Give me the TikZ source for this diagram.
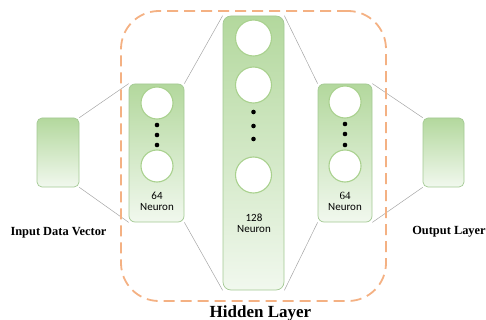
\documentclass[tikz,border=0pt]{standalone}
\usepackage{fontspec}
\setmainfont{Liberation Serif}
\newfontfamily\calib{Carlito}
\newfontfamily\tnr{Liberation Serif}
\pgfdeclarelayer{background}
\pgfsetlayers{background,main}
\definecolor{boxtop}{HTML}{B3D89D}
\definecolor{boxbot}{HTML}{F1F8EE}
\definecolor{boxline}{HTML}{A3C993}
\definecolor{circline}{HTML}{A9D18E}
\definecolor{dashcol}{HTML}{F4B183}
\definecolor{conn}{HTML}{A6A6A6}
\tikzset{
  layerbox/.style={draw=boxline, line width=0.7pt, rounded corners=6pt,
    top color=boxtop, bottom color=boxbot, minimum width=#1, inner sep=0pt},
  neuron/.style={circle, draw=circline, line width=1.1pt, fill=white, minimum size=#1, inner sep=0pt},
  dotmark/.style={circle, fill=black, minimum size=4.6pt, inner sep=0pt},
  conline/.style={draw=conn, line width=0.5pt},
  lbl/.style={font=\tnr\fontsize{12.4}{14}\selectfont\bfseries},
  ntxt/.style={font=\calib\fontsize{11}{13}\selectfont, align=center},
}
\begin{document}
\begin{tikzpicture}[x=1pt, y=-1pt]
\useasboundingbox (0,0) rectangle (486,320);
% hidden layer frame
\node[draw=dashcol, line width=1.8pt, dash pattern=on 11pt off 6pt, rounded corners=38pt,
  minimum width=265pt, minimum height=290pt, inner sep=0pt] (frame) at (253.5,156) {};
% layer boxes
\node[layerbox=42pt, minimum height=69pt, rounded corners=5pt] (in) at (58,152.5) {};
\node[layerbox=55pt, minimum height=138pt] (h1) at (156.5,153) {};
\node[layerbox=61pt, minimum height=274pt, rounded corners=8pt] (h2) at (253.5,153) {};
\node[layerbox=54pt, minimum height=138pt] (h3) at (345,153) {};
\node[layerbox=41pt, minimum height=69pt, rounded corners=5pt] (out) at (443.5,152.5) {};
% neurons, first hidden layer
\node[neuron=32pt] (a1) at (157,103) {};
\node[dotmark] (ad1) at (157,125) {};
\node[dotmark] (ad2) at (157,135) {};
\node[dotmark] (ad3) at (157,145) {};
\node[neuron=32pt] (a2) at (157,166) {};
\node[ntxt] (at) at (157,201.5) {64\\[-2pt]Neuron};
% second hidden layer
\node[neuron=36pt] (b1) at (253.5,38) {};
\node[neuron=36pt] (b2) at (253.5,85) {};
\node[dotmark] (bd1) at (253.5,112) {};
\node[dotmark] (bd2) at (253.5,126) {};
\node[dotmark] (bd3) at (253.5,139) {};
\node[neuron=36pt] (b3) at (253.5,175) {};
\node[ntxt] (bt) at (254,223.5) {128\\[-2pt]Neuron};
% third hidden layer
\node[neuron=32pt] (c1) at (345,102) {};
\node[dotmark] (cd1) at (345,124) {};
\node[dotmark] (cd2) at (345,134) {};
\node[dotmark] (cd3) at (345,145) {};
\node[neuron=32pt] (c2) at (345,166) {};
\node[ntxt] (ct) at (345,201.5) {{\tnr 64}\\[-2pt]Neuron};
% labels
\node[lbl] (lin) at (58.5,233) {Input Data Vector};
\node[lbl] (lout) at (449,232) {Output Layer};
\node[font=\tnr\fontsize{17}{19}\selectfont\bfseries] (lhid) at (260.5,313) {Hidden Layer};
% connectors
\begin{pgfonlayer}{background}
\draw[conline] (in.north east) -- (h1.north west);
\draw[conline] (in.south east) -- (h1.south west);
\draw[conline] (h1.north east) -- (h2.north west);
\draw[conline] (h1.south east) -- (h2.south west);
\draw[conline] (h2.north east) -- (h3.north west);
\draw[conline] (h2.south east) -- (h3.south west);
\draw[conline] (h3.north east) -- (out.north west);
\draw[conline] (h3.south east) -- (out.south west);
\end{pgfonlayer}
\end{tikzpicture}
\end{document}
